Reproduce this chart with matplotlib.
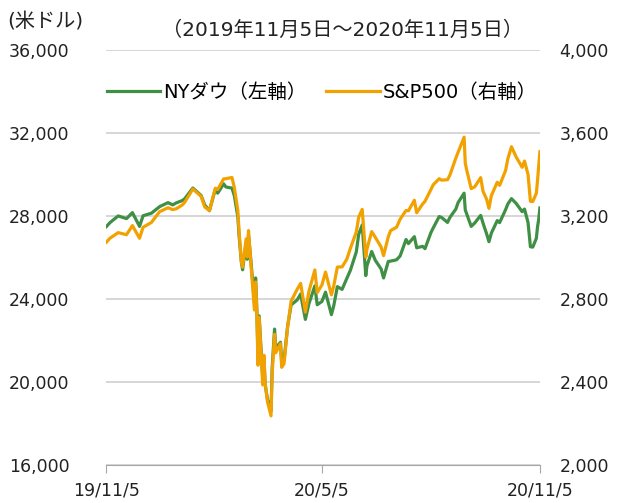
import matplotlib.pyplot as plt
from matplotlib.ticker import FuncFormatter
import numpy as np
import pandas as pd

plt.rcParams['font.family'] = ['DejaVu Sans', 'Noto Sans CJK JP']

dates = ['2019-11-05', '2019-11-08', '2019-11-15', '2019-11-22', '2019-11-27',
         '2019-12-03', '2019-12-06', '2019-12-13', '2019-12-20', '2019-12-27',
         '2019-12-31', '2020-01-03', '2020-01-08', '2020-01-10', '2020-01-17',
         '2020-01-24', '2020-01-27', '2020-01-31', '2020-02-05', '2020-02-07',
         '2020-02-12', '2020-02-14', '2020-02-19', '2020-02-21', '2020-02-24',
         '2020-02-25', '2020-02-27', '2020-02-28', '2020-03-02', '2020-03-03',
         '2020-03-04', '2020-03-06', '2020-03-09', '2020-03-10', '2020-03-11',
         '2020-03-12', '2020-03-13', '2020-03-16', '2020-03-17', '2020-03-18',
         '2020-03-20', '2020-03-23', '2020-03-24', '2020-03-26', '2020-03-27',
         '2020-03-31', '2020-04-01', '2020-04-03', '2020-04-06', '2020-04-09',
         '2020-04-14', '2020-04-17', '2020-04-21', '2020-04-24', '2020-04-29',
         '2020-05-01', '2020-05-05', '2020-05-08', '2020-05-13', '2020-05-15',
         '2020-05-18', '2020-05-22', '2020-05-26', '2020-05-29', '2020-06-03',
         '2020-06-05', '2020-06-08', '2020-06-11', '2020-06-12', '2020-06-16',
         '2020-06-19', '2020-06-24', '2020-06-26', '2020-06-30', '2020-07-02',
         '2020-07-07', '2020-07-10', '2020-07-15', '2020-07-17', '2020-07-22',
         '2020-07-24', '2020-07-29', '2020-07-31', '2020-08-05', '2020-08-07',
         '2020-08-12', '2020-08-14', '2020-08-19', '2020-08-21', '2020-08-26',
         '2020-08-28', '2020-09-02', '2020-09-03', '2020-09-04', '2020-09-08',
         '2020-09-11', '2020-09-16', '2020-09-18', '2020-09-21', '2020-09-23',
         '2020-09-25', '2020-09-30', '2020-10-02', '2020-10-07', '2020-10-09',
         '2020-10-12', '2020-10-16', '2020-10-21', '2020-10-23', '2020-10-26',
         '2020-10-28', '2020-10-30', '2020-11-02', '2020-11-03', '2020-11-04',
         '2020-11-05']

dow = [27492, 27681, 28005, 27876, 28164,
       27502, 28015, 28135, 28455, 28645,
       28538, 28634, 28745, 28824, 29348,
       28990, 28535, 28256, 29291, 29103,
       29551, 29398, 29348, 28992, 27961,
       27081, 25766, 25409, 26703, 25917,
       27091, 25865, 23851, 25018, 23553,
       21200, 23186, 20189, 21237, 19899,
       19174, 18592, 20705, 22552, 21637,
       21917, 20944, 21053, 22680, 23719,
       23950, 24242, 23018, 23775, 24634,
       23724, 23883, 24331, 23248, 23685,
       24597, 24465, 24995, 25383, 26270,
       27111, 27572, 25128, 25606, 26290,
       25871, 25445, 25016, 25813, 25827,
       25890, 26075, 26870, 26672, 27006,
       26470, 26540, 26428, 27202, 27433,
       27977, 27931, 27693, 27930, 28332,
       28654, 29100, 28293, 28133, 27501,
       27666, 28032, 27657, 27148, 26763,
       27174, 27782, 27683, 28303, 28587,
       28838, 28607, 28211, 28336, 27685,
       26519, 26502, 26925, 27481, 27848,
       28390]

spx = [3074, 3093, 3120, 3110, 3154,
       3093, 3146, 3169, 3221, 3240,
       3231, 3235, 3253, 3265, 3330,
       3295, 3244, 3226, 3334, 3328,
       3379, 3380, 3386, 3338, 3226,
       3128, 2979, 2954, 3090, 3003,
       3130, 2972, 2747, 2882, 2741,
       2481, 2711, 2386, 2529, 2398,
       2305, 2237, 2447, 2630, 2541,
       2585, 2471, 2489, 2664, 2790,
       2846, 2875, 2737, 2837, 2940,
       2831, 2868, 2930, 2820, 2864,
       2954, 2955, 2992, 3044, 3123,
       3194, 3232, 3002, 3041, 3125,
       3098, 3050, 3009, 3100, 3130,
       3146, 3185, 3227, 3225, 3276,
       3216, 3258, 3271, 3328, 3351,
       3380, 3373, 3375, 3397, 3479,
       3508, 3580, 3455, 3427, 3332,
       3341, 3385, 3319, 3281, 3237,
       3298, 3363, 3348, 3419, 3477,
       3534, 3484, 3435, 3465, 3400,
       3271, 3270, 3310, 3370, 3443,
       3510]

x_ticks = ['2019-11-05', '2020-05-05', '2020-11-05']
x_labels = ['19/11/5', '20/5/5', '20/11/5']

green = '#3f8f45'
orange = '#f2a200'
txt = '#222222'
dt = pd.to_datetime(dates)

fig = plt.figure(figsize=(6.22, 5.03), dpi=100)
ax = fig.add_axes([0.171, 0.0755, 0.697, 0.825])
ax2 = ax.twinx()

l1, = ax.plot(dt, dow, color=green, lw=2.3, solid_joinstyle='round')
l2, = ax2.plot(dt, spx, color=orange, lw=2.3, solid_joinstyle='round')

ax.set_ylim(16000, 36000)
ax.set_yticks(np.arange(16000, 36001, 4000))
ax2.set_ylim(2000, 4000)
ax2.set_yticks(np.arange(2000, 4001, 400))
fmt = FuncFormatter(lambda v, p: f'{int(v):,}')
ax.yaxis.set_major_formatter(fmt)
ax2.yaxis.set_major_formatter(fmt)

ax.set_xlim(pd.Timestamp(x_ticks[0]), pd.Timestamp(x_ticks[-1]))
ax.set_xticks(pd.to_datetime(x_ticks))
ax.set_xticklabels(x_labels)

for a in (ax, ax2):
    for s in ('top', 'left', 'right', 'bottom'):
        a.spines[s].set_visible(False)
ax.spines['bottom'].set_visible(True)
ax.spines['bottom'].set_color('#a6a6a6')
ax.grid(axis='y', color='#d0d0d0', lw=1.2)
ax.set_axisbelow(True)
ax.tick_params(axis='y', length=0, labelsize=12.5, pad=26.5, colors=txt)
ax2.tick_params(axis='y', length=0, labelsize=12.5, pad=14, colors=txt)
ax.tick_params(axis='x', length=6, color='#a6a6a6', labelsize=12.5, pad=6,
               labelcolor=txt)

fig.text(0.012, 0.956, '(米ドル)', fontsize=14.5, va='center', color=txt)
fig.text(0.55, 0.94, '（2019年11月5日～2020年11月5日）', fontsize=14.5,
         ha='center', va='center', color=txt)
fig.legend([l1, l2], ['NYダウ（左軸）', 'S&P500（右軸）'], loc='center left',
           bbox_to_anchor=(0.172, 0.817), ncol=2, frameon=False,
           borderaxespad=0, borderpad=0, handlelength=2.75,
           handletextpad=0.15, columnspacing=1.0, prop={'size': 14})

fig.savefig('out.png', dpi=100)
